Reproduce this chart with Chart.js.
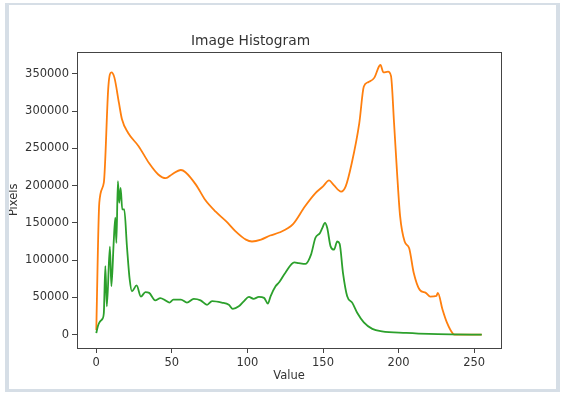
<!DOCTYPE html>
<html>
<head>
<meta charset="utf-8">
<script src="https://cdn.jsdelivr.net/npm/chart.js@4/dist/chart.umd.min.js"></script>
<style>
  body { margin: 0; background: #fff; }
  #wrap { position: relative; width: 565px; height: 397px; }
  #frame {
    position: absolute; left: 5px; top: 3px; width: 555px; height: 389px;
    box-sizing: border-box; pointer-events: none;
    border-left: 4px solid #d6dee6; border-top: 2px solid #d6dee6;
    border-right: 4px solid #d6dee6; border-bottom: 3px solid #d6dee6;
  }
</style>
</head>
<body>
<div id="wrap">
  <canvas id="histChart" width="565" height="397"></canvas>
  <div id="frame"></div>
</div>
<script>
// values
const orangeX = [0, 2, 5, 8, 10, 12, 15, 17, 21, 28, 35, 41, 46, 50, 56, 59, 66, 72, 79, 86, 92, 99, 103, 109, 115, 121, 130, 138, 145, 150, 154, 157, 162, 165, 169, 174, 177, 180, 184, 187, 188, 190, 193, 195, 197, 199, 201, 204, 207, 210, 214, 218, 221, 225, 226, 229, 232, 236, 237, 255]
const orangeY = [6000, 177000, 204000, 333000, 352000, 345000, 311000, 289000, 271000, 253000, 230000, 215000, 210000, 215000, 221000, 218000, 201000, 181000, 165000, 152000, 139000, 127500, 125000, 127500, 133000, 137000, 148000, 172000, 190000, 199000, 207000, 201000, 192000, 199000, 230000, 284000, 333000, 339000, 345000, 360000, 362000, 352000, 353000, 347000, 284000, 217000, 159000, 125000, 116000, 83000, 60000, 56000, 51000, 52000, 56000, 34000, 16000, 1000, 0, 0]

const greenX = [0, 1, 2, 4, 5, 6, 7, 9, 10, 11.5, 12.6, 13.3, 14.3, 15.2, 16.1, 17.2, 18.5, 20.3, 22.1, 23.6, 26.7, 29.5, 32.5, 35, 39, 42.4, 45.7, 48.4, 51, 56, 60, 64.5, 69, 73.3, 76.6, 83, 87.7, 90.3, 94.3, 97.6, 101, 104, 107.6, 111, 113.5, 115.3, 118.6, 121, 125, 131, 134, 138.5, 142, 145, 148, 149.5, 151.3, 152.8, 155, 157.3, 159.4, 161, 163.2, 166, 169.4, 172.7, 177, 182.6, 189, 205, 220, 235, 255]
const greenY = [2000, 11000, 16000, 21000, 29000, 92000, 38000, 118000, 65000, 123000, 157000, 123000, 206000, 177000, 197000, 168000, 168000, 118000, 74000, 58000, 66000, 51000, 57000, 56000, 46000, 49000, 46000, 43000, 47000, 47000, 43000, 48000, 46000, 40000, 45000, 43000, 40000, 34500, 38000, 44700, 50600, 48000, 50600, 49300, 41600, 51400, 64800, 70200, 82800, 97000, 96000, 95000, 107000, 130000, 136500, 143000, 150000, 143000, 118500, 114000, 125000, 122000, 83000, 51400, 42600, 29000, 16500, 7700, 4400, 2300, 900, 300, 0]

const xTicks = [0, 50, 100, 150, 200, 250]
const yTicks = [0, 50000, 100000, 150000, 200000, 250000, 300000, 350000]

const textColor = '#333'
const axisColor = '#444'
const fontFamily = '"DejaVu Sans", sans-serif'

const toPoints = (xs, ys) => xs.map((x, i) => ({x: x, y: ys[i]}))

// matplotlib style box round the plot area
const boxPlugin = {
    id: 'box',
    afterDatasetsDraw(chart) {
        const a = chart.chartArea
        const ctx = chart.ctx
        ctx.save()
        ctx.strokeStyle = axisColor
        ctx.lineWidth = 1
        ctx.strokeRect(Math.round(a.left) + 0.5, Math.round(a.top) + 0.5, Math.round(a.right - a.left), Math.round(a.bottom - a.top))
        ctx.restore()
    }
}

const histChart = new Chart(document.querySelector('#histChart'), {
    type: 'line',
    data: {
        datasets: [{
            label: 'green',
            data: toPoints(greenX, greenY),
            borderColor: '#2ca02c',
            borderWidth: 1.8,
            pointRadius: 0,
            cubicInterpolationMode: 'monotone',
            fill: false
        }, {
            label: 'orange',
            data: toPoints(orangeX, orangeY),
            borderColor: '#ff7f0e',
            borderWidth: 1.8,
            pointRadius: 0,
            cubicInterpolationMode: 'monotone',
            fill: false
        }]
    },
    options: {
        responsive: false,
        animation: false,
        layout: {padding: {left: 0, top: 0, right: 64, bottom: 0}},
        plugins: {
            legend: {display: false},
            tooltip: {enabled: false},
            title: {
                display: true,
                text: 'Image Histogram',
                color: textColor,
                font: {family: fontFamily, size: 13.8, weight: 'normal'},
                padding: {top: 33, bottom: 2}
            }
        },
        scales: {
            x: {
                type: 'linear',
                min: -12.75,
                max: 267.75,
                afterBuildTicks: (scale) => { scale.ticks = xTicks.map(v => ({value: v})) },
                afterFit: (scale) => { scale.height = 49 },
                border: {display: false},
                grid: {drawOnChartArea: false, drawTicks: true, tickLength: 5, color: axisColor},
                ticks: {color: textColor, padding: 3, maxRotation: 0, font: {family: fontFamily, size: 11.5}},
                title: {display: true, text: 'Value', color: textColor, font: {family: fontFamily, size: 11.5}, padding: {top: 0, bottom: 14}}
            },
            y: {
                type: 'linear',
                min: -18000,
                max: 380000,
                afterBuildTicks: (scale) => { scale.ticks = yTicks.map(v => ({value: v})) },
                afterFit: (scale) => { scale.width = 77 },
                border: {display: false},
                grid: {drawOnChartArea: false, drawTicks: true, tickLength: 5, color: axisColor},
                ticks: {color: textColor, padding: 3, font: {family: fontFamily, size: 11.5}, callback: (v) => String(v)},
                title: {display: true, text: 'Pixels', color: textColor, font: {family: fontFamily, size: 11.5}, padding: {top: 7, bottom: 0}}
            }
        }
    },
    plugins: [boxPlugin]
})
</script>
</body>
</html>
